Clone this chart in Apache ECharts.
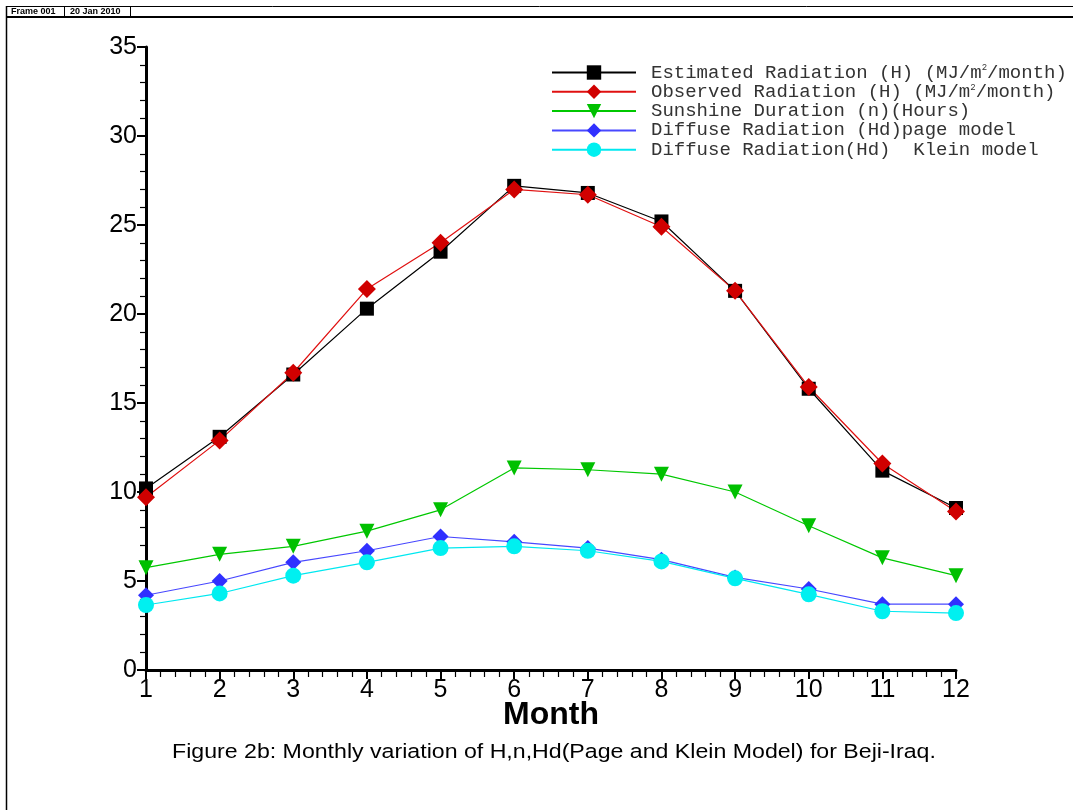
<!DOCTYPE html>
<html><head><meta charset="utf-8">
<script src="https://cdn.jsdelivr.net/npm/echarts@6/dist/echarts.min.js"></script>
<style>html,body{margin:0;padding:0;background:#fff}#c{width:1073px;height:810px}</style>
</head><body><div id="c"></div>
<script>
const months = [1,2,3,4,5,6,7,8,9,10,11,12];
const estimated = [10.2,13.1,16.6,20.3,23.5,27.2,26.8,25.2,21.3,15.8,11.2,9.1];
const observed  = [9.7,12.9,16.7,21.4,24.0,27.0,26.7,24.9,21.3,15.9,11.6,8.9];
const sunshine  = [5.75,6.5,6.95,7.8,9.0,11.35,11.25,11.0,10.0,8.1,6.3,5.3];
const pageModel = [4.2,5.0,6.05,6.7,7.5,7.2,6.85,6.2,5.2,4.55,3.7,3.7];
const kleinModel= [3.65,4.3,5.3,6.05,6.85,6.95,6.7,6.1,5.15,4.25,3.3,3.2];
const seriesNames = [
  'Estimated Radiation (H) (MJ/m2/month)',
  'Observed Radiation (H) (MJ/m2/month)',
  'Sunshine Duration (n)(Hours)',
  'Diffuse Radiation (Hd)page model',
  'Diffuse Radiation(Hd)  Klein model'
];
const yTicks = {min:0, max:35, interval:5};
const xTicks = {min:1, max:12, interval:1};

const pair = (arr) => months.map((m,i)=>[m, arr[i]]);
const chart = echarts.init(document.getElementById('c'), null, {renderer:'canvas'});
const mono = '"Liberation Mono", "DejaVu Sans Mono", monospace';
const sans = '"Liberation Sans", Arial, sans-serif';

function mk(name, data, color, lineColor, symbol, size, rot) {
  return {
    name, type:'line', data: pair(data), symbol, symbolSize:size, symbolRotate: rot||0,
    itemStyle:{color, borderWidth:0, opacity:1},
    lineStyle:{color: lineColor, width:1.2},
    emphasis:{disabled:true}, animation:false, z: 3
  };
}

chart.setOption({
  backgroundColor:'#fff',
  animation:false,
  grid:{left:146, right:117, top:47, bottom:140, containLabel:false},
  legend:{
    orient:'vertical', left:546, top:58, itemWidth:84, itemHeight:18, itemGap:0.3,
    textStyle:{fontFamily:mono, fontSize:19, lineHeight:18, color:'#333', padding:[0,0,0,10],
      rich:{sup:{fontFamily:mono, fontSize:9, lineHeight:18, verticalAlign:'top', padding:[0,0,9,0], color:'#333'},
            t:{fontFamily:mono, fontSize:19, lineHeight:18, color:'#333'}}},
    formatter: function(n){
      if (n.indexOf('m2') >= 0) { const p = n.split('m2'); return '{t|'+p[0]+'m}{sup|2}{t|'+p[1]+'}'; }
      return '{t|'+n+'}';
    },
    data: seriesNames
  },
  xAxis:{
    type:'value', min:xTicks.min, max:xTicks.max, interval:xTicks.interval,
    name:'Month', nameLocation:'middle', nameGap:29, nameMoveOverlap:false,
    nameTextStyle:{fontFamily:sans, fontSize:32, fontWeight:'bold', color:'#000'},
    axisLine:{show:true, onZero:false, lineStyle:{color:'#000', width:3}},
    axisTick:{show:true, inside:false, length:9, lineStyle:{color:'#000', width:2}},
    minorTick:{show:true, splitNumber:5, length:7, lineStyle:{color:'#000', width:1.2}},
    axisLabel:{fontFamily:sans, fontSize:25, color:'#000', margin:8},
    splitLine:{show:false}, minorSplitLine:{show:false}
  },
  yAxis:{
    type:'value', min:yTicks.min, max:yTicks.max, interval:yTicks.interval,
    axisLine:{show:true, onZero:false, lineStyle:{color:'#000', width:3}},
    axisTick:{show:true, inside:false, length:9, lineStyle:{color:'#000', width:2}},
    minorTick:{show:true, splitNumber:5, length:6, lineStyle:{color:'#000', width:1.2}},
    axisLabel:{fontFamily:sans, fontSize:25, color:'#000', margin:9, padding:[4,0,0,0]},
    splitLine:{show:false}, minorSplitLine:{show:false}
  },
  series:[
    mk(seriesNames[0], estimated, '#000000', '#000000', 'rect', 14),
    mk(seriesNames[1], observed, '#d00000', '#e01010', 'diamond', 18),
    mk(seriesNames[2], sunshine, '#00c000', '#00c800', 'triangle', 15, 180),
    mk(seriesNames[3], pageModel, '#3030ff', '#4848ff', 'diamond', 16),
    mk(seriesNames[4], kleinModel, '#00f0f0', '#00e8f0', 'circle', 16)
  ],
  graphic:[
    {type:'line', shape:{x1:6,y1:6.5,x2:1073,y2:6.5}, style:{stroke:'#000', lineWidth:1}, silent:true},
    {type:'line', shape:{x1:6,y1:17,x2:1073,y2:17}, style:{stroke:'#000', lineWidth:2}, silent:true},
    {type:'line', shape:{x1:6.5,y1:6,x2:6.5,y2:810}, style:{stroke:'#000', lineWidth:1.5}, silent:true},
    {type:'line', shape:{x1:64.5,y1:6,x2:64.5,y2:17}, style:{stroke:'#000', lineWidth:1}, silent:true},
    {type:'line', shape:{x1:130.5,y1:6,x2:130.5,y2:17}, style:{stroke:'#000', lineWidth:1}, silent:true},
    {type:'text', left:11, top:7, style:{text:'Frame 001', font:'bold 9px "Liberation Sans", Arial, sans-serif', fill:'#000'}, silent:true},
    {type:'text', left:70, top:7, style:{text:'20 Jan 2010', font:'bold 9px "Liberation Sans", Arial, sans-serif', fill:'#000'}, silent:true},
    {type:'text', x:172, y:743, scaleX:1.2, style:{text:'Figure 2b: Monthly variation of H,n,Hd(Page and Klein Model) for Beji-Iraq.', font:'19.3px "Liberation Sans", Arial, sans-serif', fill:'#000'}, silent:true}
  ]
});
</script></body></html>
